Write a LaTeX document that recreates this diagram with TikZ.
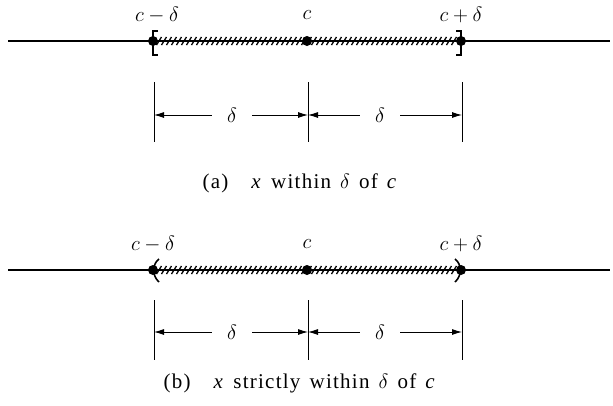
\documentclass[tikz,border=0pt]{standalone}
\usepackage{fontspec}
\setmainfont{Liberation Serif}
\newfontfamily\capfont[LetterSpace=6,WordSpace=1.4]{Liberation Serif}
\usetikzlibrary{arrows.meta}

\begin{document}
\begin{tikzpicture}[x=1pt,y=-1pt,
    dot/.style={circle,fill=black,inner sep=0pt,minimum size=10pt},
    lbl/.style={font=\fontsize{22}{24}\selectfont},
    caption/.style={font=\capfont\fontsize{21}{23}\selectfont},
    dlabel/.style={font=\fontsize{21}{22}\selectfont,inner xsep=15pt},
    dimline/.style={line width=0.9pt,-{Latex[length=10pt,width=6pt]}}]
  \def\xa{153}
  \def\xb{307}
  \def\xc{461}
  \useasboundingbox (0,0) rectangle (613,405);

  %(a): closed interval
  \begin{scope}
    \coordinate (L0) at (8,41);
    \coordinate (L1) at (610,41);
    \draw[line width=1.3pt] (L0) -- (L1);
    \foreach \i in {159,164,...,456}
      \draw[line width=1.3pt] (\i-2.5,45) -- (\i+2.5,37);
    \node[dot] (pa) at (\xa,41) {};
    \node[dot] (pc) at (\xb,41) {};
    \node[dot] (pb) at (\xc,41) {};
    \draw[line width=1.6pt] (\xa+5,31) -- (\xa,31) -- (\xa,55) -- (\xa+5,55);
    \draw[line width=1.6pt] (\xc-5,31) -- (\xc,31) -- (\xc,55) -- (\xc-5,55);
    \node[lbl] at (157,15) {$c-\delta$};
    \node[lbl] at (\xb,15) {$c$};
    \node[lbl] at (461,15) {$c+\delta$};

    %dimension marks
    \foreach \n/\x in {a1/\xa,a2/\xb,a3/\xc}
    {
      \coordinate (\n t) at (\x+1,82);
      \coordinate (\n) at (\x+1,115);
      \draw[line width=0.9pt] (\n t) -- (\x+1,142);
    }
    \node[dlabel] (da) at (232,115) {$\delta$};
    \node[dlabel] (db) at (380,115) {$\delta$};
    \draw[dimline] (da) -- (a1);
    \draw[dimline] (da) -- (a2);
    \draw[dimline] (db) -- (a2);
    \draw[dimline] (db) -- (a3);
    \node[caption,anchor=west] at (199,183) {(a)\hspace{1.1em}\textit{x} within $\delta$ of \textit{c}};
  \end{scope}

  %(b): open interval
  \begin{scope}
    \coordinate (M0) at (8,270);
    \coordinate (M1) at (610,270);
    \draw[line width=1.3pt] (M0) -- (M1);
    \foreach \i in {159,164,...,456}
      \draw[line width=1.3pt] (\i-2.5,274) -- (\i+2.5,266);
    \node[dot] (qa) at (\xa,270) {};
    \node[dot] (qc) at (\xb,270) {};
    \node[dot] (qb) at (\xc,270) {};
    \draw[line width=1.6pt] (\xa+6,259) .. controls (\xa-1,264) and (\xa-1,276) .. (\xa+6,282);
    \draw[line width=1.6pt] (\xc-6,259) .. controls (\xc+1,264) and (\xc+1,276) .. (\xc-6,282);
    \node[lbl] at (153,244) {$c-\delta$};
    \node[lbl] at (\xb,244) {$c$};
    \node[lbl] at (461,244) {$c+\delta$};

    %dimension marks
    \foreach \n/\x in {b1/\xa,b2/\xb,b3/\xc}
    {
      \coordinate (\n t) at (\x+1,300);
      \coordinate (\n) at (\x+1,332);
      \draw[line width=0.9pt] (\n t) -- (\x+1,360);
    }
    \node[dlabel] (dc) at (232,332) {$\delta$};
    \node[dlabel] (dd) at (380,332) {$\delta$};
    \draw[dimline] (dc) -- (b1);
    \draw[dimline] (dc) -- (b2);
    \draw[dimline] (dd) -- (b2);
    \draw[dimline] (dd) -- (b3);
    \node[caption,anchor=west] at (160,383) {(b)\hspace{1.1em}\textit{x} strictly within $\delta$ of \textit{c}};
  \end{scope}
\end{tikzpicture}
\end{document}
